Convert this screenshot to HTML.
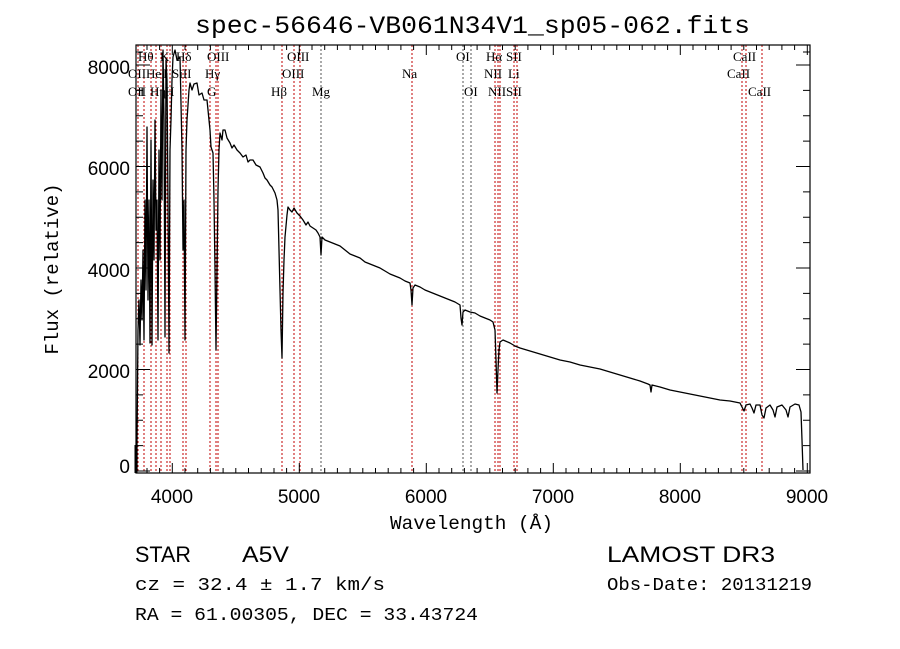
<!DOCTYPE html>
<html><head><meta charset="utf-8"><style>
body{margin:0;background:#fff;}
svg{display:block}
.r{stroke:#c00000;stroke-width:1;stroke-dasharray:2,2}
.g{stroke:#555;stroke-width:1;stroke-dasharray:2,2}
.l{font-family:"Liberation Serif",serif;font-size:13px;fill:#000}
.m{font-family:"Liberation Mono",monospace;fill:#000}
.s{font-family:"Liberation Sans",sans-serif;fill:#000}
</style></head><body>
<svg width="900" height="649" viewBox="0 0 900 649" xmlns="http://www.w3.org/2000/svg">
<rect width="900" height="649" fill="#fff"/>
<text x="195" y="33" class="m" font-size="25" textLength="555" lengthAdjust="spacingAndGlyphs">spec-56646-VB061N34V1_sp05-062.fits</text>
<g>
<line class="r" x1="138" y1="45" x2="138" y2="473"/>
<line class="r" x1="144" y1="45" x2="144" y2="473"/>
<line class="r" x1="151" y1="45" x2="151" y2="473"/>
<line class="r" x1="156" y1="45" x2="156" y2="473"/>
<line class="r" x1="161" y1="45" x2="161" y2="473"/>
<line class="r" x1="167" y1="45" x2="167" y2="473"/>
<line class="r" x1="170" y1="45" x2="170" y2="473"/>
<line class="r" x1="183" y1="45" x2="183" y2="473"/>
<line class="r" x1="186" y1="45" x2="186" y2="473"/>
<line class="r" x1="210" y1="45" x2="210" y2="473"/>
<line class="r" x1="216" y1="45" x2="216" y2="473"/>
<line class="r" x1="218" y1="45" x2="218" y2="473"/>
<line class="r" x1="282" y1="45" x2="282" y2="473"/>
<line class="r" x1="294" y1="45" x2="294" y2="473"/>
<line class="r" x1="300" y1="45" x2="300" y2="473"/>
<line class="g" x1="321" y1="45" x2="321" y2="473"/>
<line class="r" x1="412" y1="45" x2="412" y2="473"/>
<line class="g" x1="463" y1="45" x2="463" y2="473"/>
<line class="g" x1="471" y1="45" x2="471" y2="473"/>
<line class="r" x1="495" y1="45" x2="495" y2="473"/>
<line class="r" x1="498" y1="45" x2="498" y2="473"/>
<line class="r" x1="500" y1="45" x2="500" y2="473"/>
<line class="r" x1="514" y1="45" x2="514" y2="473"/>
<line class="r" x1="517" y1="45" x2="517" y2="473"/>
<line class="r" x1="742" y1="45" x2="742" y2="473"/>
<line class="r" x1="746" y1="45" x2="746" y2="473"/>
<line class="r" x1="762" y1="45" x2="762" y2="473"/>
</g>
<g class="l">
<text x="138" y="61">Hθ</text><text x="160" y="61">K</text><text x="176" y="61">Hδ</text>
<text x="207" y="61">OIII</text><text x="287" y="61">OIII</text>
<text x="128" y="78">OII</text><text x="146" y="78">He</text><text x="163" y="78">I</text><text x="172" y="78">SiII</text>
<text x="205" y="78">Hγ</text><text x="282" y="78">OIII</text>
<text x="128" y="96">OII</text><text x="140" y="96">I</text><text x="150" y="96">Hη</text><text x="165" y="96">H</text>
<text x="207" y="96">G</text><text x="271" y="96">Hβ</text><text x="312" y="96">Mg</text>
<text x="402" y="78">Na</text>
<text x="456" y="61">OI</text><text x="464" y="96">OI</text>
<text x="486" y="61">Hα</text><text x="506" y="61">SII</text>
<text x="484" y="78">NII</text><text x="508" y="78">Li</text>
<text x="488" y="96">NII</text><text x="506" y="96">SII</text>
<text x="733" y="61">CaII</text><text x="727" y="78">CaII</text><text x="748" y="96">CaII</text>
</g>
<polyline fill="none" stroke="#000" stroke-width="1.3" stroke-linejoin="round" points="
137,470 137,440 138,330 139,300 140,345 141,280 142,320 143,250 144,340 145,200 146,290 147,127 148,300 149,200 150,343 151,140 152,345 153,180 154,260 155,120 156,230 157,200 158,340 159,150 160,260 161,90 162,200 163,50 164,120 165,337 166,60 167,80 168,200 169,353 170,150 171,120 172,80 173,57 175,50 177,60 180,57 182,150 183,250 184,200 185,340 186,150 187,120 189,90 190,83 192,90 194,84 197,83 199,95 202,93 204,100 207,100 209,120 210,130 211,147 213,153 214,200 215,270 216,350 217,270 218,190 219,150 220,133 222,140 223,130 225,130 227,138 230,143 232,148 234,145 237,150 240,153 243,157 246,155 248,162 250,160 253,160 256,165 260,167 263,173 265,178 267,180 270,185 272,187 275,193 277,200 278,210 279,250 280,290 281,330 282,358 283,293 284,260 285,237 287,215 288,207 290,210 292,212 294,208 297,213 300,216 303,220 306,225 308,222 310,226 313,228 316,230 318,233 320,237 321,255 322,237 325,240 330,242 335,244 340,246 345,250 350,254 355,256 360,258 365,262 370,264 375,266 380,268 385,271 390,274 395,276 400,278 405,281 410,283 411,290 412,305 413,288 415,285 420,287 425,290 430,292 435,294 440,296 445,298 450,300 455,302 460,305 461,318 462,325 463,312 465,310 470,312 475,313 480,316 485,318 490,320 493,322 495,330 496,360 497,393 498,370 499,350 500,342 503,340 510,343 515,346 520,348 530,351 540,354 550,357 560,360 570,362 580,365 590,367 600,369 610,372 620,375 630,378 640,381 648,384 650,385 651,392 652,385 660,387 670,390 680,392 690,394 700,396 710,398 720,400 730,401 740,403 742,407 744,411 746,405 750,404 752,408 754,413 756,405 760,405 762,415 764,418 766,408 770,405 773,410 775,417 777,407 782,405 786,410 788,417 790,407 795,404 799,405 801,412 802,440 803,470"/>
<rect x="136" y="45" width="674" height="428" fill="none" stroke="#000" stroke-width="1.2"/>
<line x1="136" y1="445" x2="136" y2="473" stroke="#000" stroke-width="3"/>
<g stroke="#000" stroke-width="1">
<path d="M172.3,473v-10M299.3,473v-10M426.3,473v-10M553.3,473v-10M680.3,473v-10M807.3,473v-10
M172.3,45v10M299.3,45v10M426.3,45v10M553.3,45v10M680.3,45v10M807.3,45v10"/>
<path d="M147,473v-5M159.6,473v-5M185,473v-5M197.7,473v-5M210.4,473v-5M223.1,473v-5M235.8,473v-5M248.5,473v-5M261.2,473v-5M274,473v-5M286.6,473v-5M312,473v-5M324.7,473v-5M337.4,473v-5M350.1,473v-5M362.8,473v-5M375.5,473v-5M388.2,473v-5M400.9,473v-5M413.6,473v-5M439,473v-5M451.7,473v-5M464.4,473v-5M477.1,473v-5M489.8,473v-5M502.5,473v-5M515.2,473v-5M527.9,473v-5M540.6,473v-5M566,473v-5M578.7,473v-5M591.4,473v-5M604.1,473v-5M616.8,473v-5M629.5,473v-5M642.2,473v-5M654.9,473v-5M667.6,473v-5M693,473v-5M705.7,473v-5M718.4,473v-5M731.1,473v-5M743.8,473v-5M756.5,473v-5M769.2,473v-5M781.9,473v-5M794.6,473v-5
M147,45v5M159.6,45v5M185,45v5M197.7,45v5M210.4,45v5M223.1,45v5M235.8,45v5M248.5,45v5M261.2,45v5M274,45v5M286.6,45v5M312,45v5M324.7,45v5M337.4,45v5M350.1,45v5M362.8,45v5M375.5,45v5M388.2,45v5M400.9,45v5M413.6,45v5M439,45v5M451.7,45v5M464.4,45v5M477.1,45v5M489.8,45v5M502.5,45v5M515.2,45v5M527.9,45v5M540.6,45v5M566,45v5M578.7,45v5M591.4,45v5M604.1,45v5M616.8,45v5M629.5,45v5M642.2,45v5M654.9,45v5M667.6,45v5M693,45v5M705.7,45v5M718.4,45v5M731.1,45v5M743.8,45v5M756.5,45v5M769.2,45v5M781.9,45v5M794.6,45v5"/>
<path d="M136,471h14M136,369.5h14M136,268h14M136,166.5h14M136,65h14
M810,471h-14M810,369.5h-14M810,268h-14M810,166.5h-14M810,65h-14
M136,445.6h7M136,420.2h7M136,394.9h7M136,344.1h7M136,318.8h7M136,293.4h7M136,242.6h7M136,217.3h7M136,191.9h7M136,141.1h7M136,115.8h7M136,90.4h7M136,52h7
M810,445.6h-7M810,420.2h-7M810,394.9h-7M810,344.1h-7M810,318.8h-7M810,293.4h-7M810,242.6h-7M810,217.3h-7M810,191.9h-7M810,141.1h-7M810,115.8h-7M810,90.4h-7M810,52h-7"/>
</g>
<g class="s" font-size="19">
<text x="130" y="473" text-anchor="end">0</text>
<text x="130" y="378" text-anchor="end">2000</text>
<text x="130" y="277" text-anchor="end">4000</text>
<text x="130" y="175" text-anchor="end">6000</text>
<text x="130" y="74" text-anchor="end">8000</text>
<text x="172" y="503" text-anchor="middle">4000</text>
<text x="299" y="503" text-anchor="middle">5000</text>
<text x="426" y="503" text-anchor="middle">6000</text>
<text x="553" y="503" text-anchor="middle">7000</text>
<text x="680" y="503" text-anchor="middle">8000</text>
<text x="807" y="503" text-anchor="middle">9000</text>
</g>
<text x="390" y="529" class="m" font-size="19" textLength="163" lengthAdjust="spacingAndGlyphs">Wavelength (Å)</text>
<text transform="translate(58,269) rotate(-90)" text-anchor="middle" class="m" font-size="19">Flux (relative)</text>
<text x="135" y="562" class="s" font-size="22" textLength="56" lengthAdjust="spacingAndGlyphs">STAR</text>
<text x="242" y="562" class="s" font-size="22" textLength="47" lengthAdjust="spacingAndGlyphs">A5V</text>
<text x="607" y="562" class="s" font-size="22" textLength="168" lengthAdjust="spacingAndGlyphs">LAMOST DR3</text>
<text x="135" y="590" class="m" font-size="18" textLength="250" lengthAdjust="spacingAndGlyphs">cz = 32.4 ± 1.7 km/s</text>
<text x="607" y="590" class="m" font-size="18" textLength="205" lengthAdjust="spacingAndGlyphs">Obs-Date: 20131219</text>
<text x="135" y="620" class="m" font-size="18" textLength="343" lengthAdjust="spacingAndGlyphs">RA =  61.00305, DEC =  33.43724</text>
</svg>
</body></html>
